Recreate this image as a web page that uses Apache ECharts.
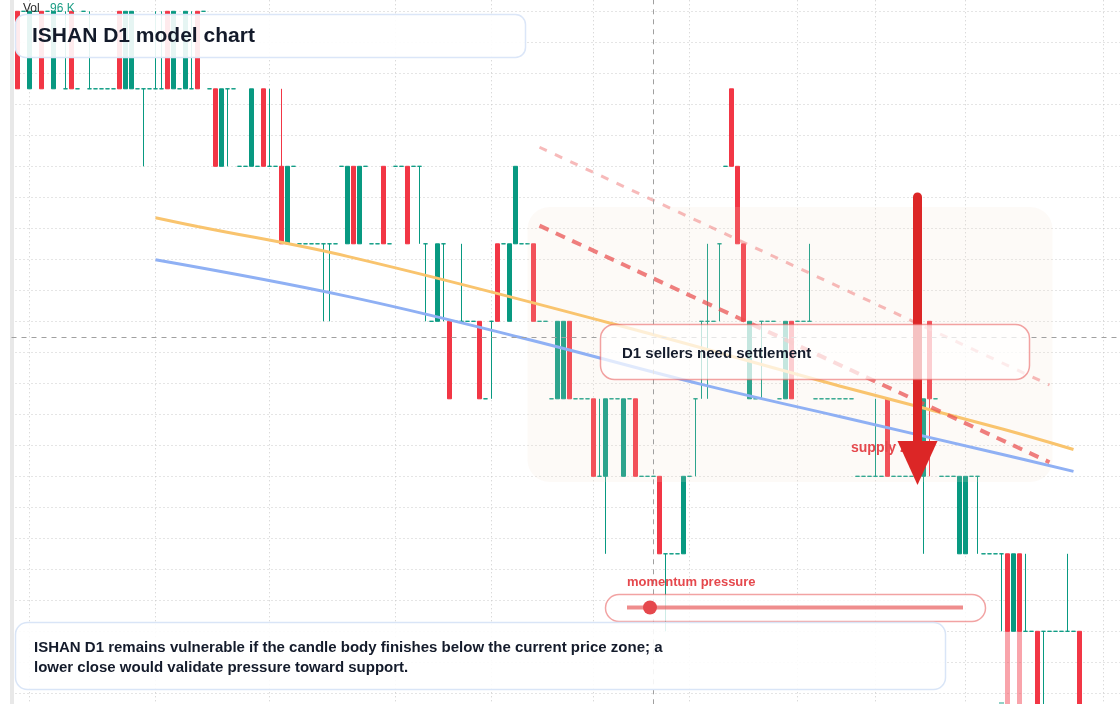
<!DOCTYPE html>
<html>
<head>
<meta charset="utf-8">
<script src="https://cdn.jsdelivr.net/npm/echarts@6/dist/echarts.min.js"></script>
<style>
html,body{margin:0;padding:0;background:#ffffff;}
#chart{width:1120px;height:704px;}
</style>
</head>
<body>
<div id="chart"></div>
<script>
// ---- candle data (daily), price levels ----
const OPEN = [
1.30,1.30,1.25,1.30,1.30,1.30,1.25,1.30,1.25,1.30,
1.25,1.30,1.25,1.25,1.25,1.25,1.25,1.30,1.25,1.25,
1.25,1.25,1.25,1.25,1.25,1.30,1.25,1.25,1.25,1.25,
1.30,1.30,1.25,1.25,1.20,1.25,1.25,1.20,1.20,1.20,
1.20,1.25,1.20,1.20,1.20,1.15,1.20,1.15,1.15,1.15,
1.15,1.15,1.15,1.15,1.20,1.15,1.20,1.15,1.20,1.15,
1.15,1.20,1.15,1.20,1.20,1.20,1.20,1.20,1.15,1.10,
1.10,1.15,1.10,1.10,1.10,1.10,1.10,1.10,1.05,1.10,
1.15,1.15,1.10,1.15,1.15,1.15,1.15,1.10,1.10,1.05,
1.05,1.05,1.10,1.05,1.05,1.05,1.05,1.00,1.00,1.05,
1.05,1.00,1.05,1.05,1.00,1.00,1.00,1.00,0.95,0.95,
0.95,0.95,1.00,1.05,1.10,1.10,1.10,1.15,1.20,1.25,
1.20,1.15,1.05,1.05,1.10,1.10,1.10,1.05,1.05,1.10,
1.10,1.10,1.10,1.05,1.05,1.05,1.05,1.05,1.05,1.05,
1.00,1.00,1.00,1.00,1.00,1.05,1.00,1.00,1.00,1.00,
1.00,1.00,1.10,1.05,1.00,1.00,1.00,0.95,0.95,1.00,
1.00,0.95,0.95,0.95,0.95,0.95,0.90,0.95,0.90,0.90,
0.90,0.90,0.90,0.90,0.90,0.90,0.90,0.90
];
const CLOSE = [
1.25,1.30,1.30,1.30,1.25,1.30,1.30,1.30,1.25,1.25,
1.25,1.30,1.25,1.25,1.25,1.25,1.25,1.25,1.30,1.30,
1.25,1.25,1.25,1.25,1.25,1.25,1.30,1.25,1.30,1.25,
1.25,1.30,1.25,1.20,1.25,1.25,1.25,1.20,1.20,1.25,
1.20,1.20,1.20,1.20,1.15,1.20,1.20,1.15,1.15,1.15,
1.15,1.15,1.15,1.15,1.20,1.20,1.15,1.20,1.20,1.15,
1.15,1.15,1.15,1.20,1.20,1.15,1.20,1.20,1.15,1.10,
1.15,1.15,1.05,1.10,1.10,1.10,1.10,1.05,1.05,1.10,
1.10,1.15,1.15,1.20,1.15,1.15,1.10,1.10,1.10,1.05,
1.10,1.10,1.05,1.05,1.05,1.05,1.00,1.00,1.05,1.05,
1.05,1.05,1.05,1.00,1.00,1.00,1.00,0.95,0.95,0.95,
0.95,1.00,1.00,1.05,1.10,1.10,1.10,1.15,1.20,1.20,
1.15,1.10,1.10,1.05,1.10,1.10,1.10,1.05,1.10,1.05,
1.10,1.10,1.10,1.05,1.05,1.05,1.05,1.05,1.05,1.05,
1.00,1.00,1.00,1.00,1.00,1.00,1.00,1.00,1.00,1.00,
1.00,1.05,1.05,1.05,1.00,1.00,1.00,1.00,1.00,1.00,
1.00,0.95,0.95,0.95,0.95,0.90,0.95,0.90,0.90,0.90,
0.85,0.90,0.90,0.90,0.90,0.90,0.90,0.85
];
const LOW = [
1.25,1.30,1.25,1.30,1.25,1.30,1.25,1.30,1.25,1.25,
1.25,1.30,1.25,1.25,1.25,1.25,1.25,1.25,1.25,1.25,
1.25,1.20,1.25,1.25,1.25,1.25,1.25,1.25,1.25,1.25,
1.25,1.30,1.25,1.20,1.20,1.20,1.25,1.20,1.20,1.20,
1.20,1.20,1.20,1.20,1.15,1.15,1.20,1.15,1.15,1.15,
1.15,1.10,1.10,1.15,1.20,1.15,1.15,1.15,1.20,1.15,
1.15,1.15,1.15,1.20,1.20,1.15,1.20,1.15,1.10,1.10,
1.10,1.10,1.05,1.10,1.10,1.10,1.10,1.05,1.05,1.05,
1.10,1.15,1.10,1.15,1.15,1.15,1.10,1.10,1.10,1.05,
1.05,1.05,1.05,1.05,1.05,1.05,1.00,1.00,0.95,1.05,
1.05,1.00,1.05,1.00,1.00,1.00,1.00,0.95,0.90,0.95,
0.95,0.95,1.00,1.00,1.05,1.05,1.10,1.10,1.20,1.20,
1.15,1.10,1.05,1.05,1.05,1.10,1.10,1.05,1.05,1.05,
1.10,1.10,1.10,1.05,1.05,1.05,1.05,1.05,1.05,1.05,
1.00,1.00,1.00,1.00,1.00,1.00,1.00,1.00,1.00,1.00,
1.00,0.95,1.00,1.05,1.00,1.00,1.00,0.95,0.95,1.00,
0.95,0.95,0.95,0.95,0.90,0.90,0.90,0.90,0.90,0.90,
0.85,0.85,0.90,0.90,0.90,0.90,0.90,0.85
];
const HIGH = [
1.30,1.30,1.30,1.30,1.30,1.30,1.30,1.30,1.30,1.30,
1.25,1.30,1.30,1.25,1.25,1.25,1.25,1.30,1.30,1.30,
1.25,1.25,1.25,1.30,1.30,1.30,1.30,1.25,1.30,1.30,
1.30,1.30,1.25,1.25,1.25,1.25,1.25,1.20,1.20,1.25,
1.20,1.25,1.25,1.20,1.25,1.20,1.20,1.15,1.15,1.15,
1.15,1.15,1.15,1.15,1.20,1.20,1.20,1.20,1.20,1.15,
1.15,1.20,1.15,1.20,1.20,1.20,1.20,1.20,1.15,1.10,
1.15,1.15,1.10,1.10,1.15,1.10,1.10,1.10,1.05,1.10,
1.15,1.15,1.15,1.20,1.15,1.15,1.15,1.10,1.10,1.05,
1.10,1.10,1.10,1.05,1.05,1.05,1.05,1.05,1.05,1.05,
1.05,1.05,1.05,1.05,1.00,1.00,1.00,1.00,0.95,0.95,
0.95,1.00,1.00,1.05,1.10,1.15,1.10,1.15,1.20,1.25,
1.20,1.15,1.10,1.05,1.10,1.10,1.10,1.05,1.10,1.10,
1.10,1.10,1.15,1.05,1.05,1.05,1.05,1.05,1.05,1.05,
1.00,1.00,1.00,1.05,1.00,1.05,1.00,1.00,1.00,1.00,
1.00,1.05,1.10,1.05,1.00,1.00,1.00,1.00,1.00,1.00,
1.00,0.95,0.95,0.95,0.95,0.95,0.95,0.95,0.95,0.90,
0.90,0.90,0.90,0.90,0.90,0.95,0.90,0.90
];
// volume bars that reach into view (thousands)
const VOL_INDEX = [164, 165, 167];
const VOL_K = [30, 127, 127];
// moving-average style curves (candle index, price)
const FAST_IDX = [23, 30, 55, 99, 137, 164, 176];
const FAST_VAL = [1.1668, 1.1612, 1.1419, 1.0986, 1.0583, 1.0307, 1.0173];
const SLOW_IDX = [23, 55, 84, 114, 137, 164, 176];
const SLOW_VAL = [1.1397, 1.1161, 1.0894, 1.0593, 1.0386, 1.0142, 1.0032];
// descending trend lines
const TREND_IDX = [87, 172];
const TREND_MAIN = [1.1617, 1.0091];
const TREND_UPPER = [1.2123, 1.0589];
// arrow, crosshair, zone
const ARROW_IDX = 150;
const ARROW_PRICE = [1.1802, 1.0086];
const CROSS_IDX = 106;
const CROSS_PRICE = 1.0892;
const ZONE_IDX = [85, 172];
const ZONE_PRICE = [1.1737, 0.9963];
const GRID_X_IDX = [2, 23, 42, 63, 79, 96, 112, 130, 143, 158, 181];

const LEAD = 1, TRAIL = 8;
const CATEGORIES = [];
for (let k = 0; k < LEAD + OPEN.length + TRAIL; k++) CATEGORIES.push('D' + (k - LEAD + 1));
const K = i => i + LEAD;

const GREEN = '#089981', RED = '#f23645';
const gridSet = new Set(GRID_X_IDX.map(K));

const candleData = CATEGORIES.map((_, k) => {
  const i = k - LEAD;
  return (i >= 0 && i < OPEN.length) ? [OPEN[i], CLOSE[i], LOW[i], HIGH[i]] : ['-', '-', '-', '-'];
});
const volData = CATEGORIES.map(() => '-');
VOL_INDEX.forEach((i, j) => {
  const bear = CLOSE[i] < OPEN[i];
  volData[K(i)] = { value: VOL_K[j], itemStyle: { color: bear ? 'rgba(242,54,69,0.45)' : 'rgba(8,153,129,0.45)' } };
});
const pairs = (idx, val) => idx.map((i, j) => [K(i), val[j]]);

const chart = echarts.init(document.getElementById('chart'), null, { renderer: 'canvas' });
const gridLine = { color: '#cbcbcb', type: [1, 3], width: 1 };
const option = {
  animation: false,
  backgroundColor: '#ffffff',
  grid: { left: 11.5, right: -7.5, top: -19.7, bottom: -20.3, outerBoundsMode: 'none', containLabel: false },
  xAxis: {
    type: 'category', data: CATEGORIES, boundaryGap: false,
    axisLine: { show: false }, axisTick: { show: false }, axisLabel: { show: false },
    splitLine: { show: true, interval: (idx) => gridSet.has(idx), lineStyle: gridLine }
  },
  yAxis: [
    {
      type: 'value', min: 0.84, max: 1.32, interval: 0.02, position: 'left',
      axisLine: { show: true, lineStyle: { color: '#e8e8e8', width: 4 } },
      axisTick: { show: false }, axisLabel: { show: false },
      splitLine: { show: true, lineStyle: gridLine }
    },
    { type: 'value', min: 0, max: 1000, show: false, splitLine: { show: false } }
  ],
  series: [
    {
      type: 'bar', yAxisIndex: 1, data: volData, barWidth: 5, z: 1, silent: true
    },
    {
      type: 'candlestick', data: candleData, barWidth: 4, z: 2, silent: true,
      itemStyle: {
        color: GREEN, color0: RED, borderColor: GREEN, borderColor0: RED,
        borderColorDoji: GREEN, borderWidth: 1
      }
    },
    {
      type: 'line', data: pairs(FAST_IDX, FAST_VAL), smooth: 0.4, symbol: 'none', z: 5, silent: true,
      lineStyle: { color: '#f9c46e', width: 3 }
    },
    {
      type: 'line', data: pairs(SLOW_IDX, SLOW_VAL), smooth: 0.4, symbol: 'none', z: 5, silent: true,
      lineStyle: { color: '#8fb0f4', width: 3 }
    },
    {
      type: 'line', data: pairs(TREND_IDX, TREND_MAIN), symbol: 'none', z: 6, silent: true,
      lineStyle: { color: 'rgba(233,77,77,0.72)', width: 4, type: [10, 8] }
    },
    {
      type: 'line', data: pairs(TREND_IDX, TREND_UPPER), symbol: 'none', z: 6, silent: true,
      lineStyle: { color: 'rgba(240,130,130,0.55)', width: 3, type: [8, 9] }
    },
    {
      type: 'line', data: [], z: 50, silent: true,
      markLine: {
        silent: true, z: 50, symbol: ['none', 'none'], label: { show: false },
        lineStyle: { color: '#a0a0a0', width: 1, type: [5, 5] },
        data: [ { xAxis: CATEGORIES[K(CROSS_IDX)] }, { yAxis: CROSS_PRICE } ]
      }
    },
    {
      type: 'line', data: [], z: 60, silent: true,
      markLine: {
        silent: true, z: 60, label: { show: false },
        lineStyle: { color: '#dc2626', width: 9, type: 'solid', cap: 'round' },
        data: [[
          { coord: [K(ARROW_IDX), ARROW_PRICE[0]], symbol: 'none' },
          { coord: [K(ARROW_IDX), ARROW_PRICE[1]], symbol: 'triangle', symbolSize: [40, 44] }
        ]]
      }
    }
  ]
};
chart.setOption(option);

const FONT = '"Liberation Sans", Arial, Helvetica, sans-serif';
const p0 = chart.convertToPixel({ gridIndex: 0 }, [K(ZONE_IDX[0]), ZONE_PRICE[0]]);
const p1 = chart.convertToPixel({ gridIndex: 0 }, [K(ZONE_IDX[1]), ZONE_PRICE[1]]);
const half = (chart.convertToPixel({ gridIndex: 0 }, [K(ZONE_IDX[1]) + 1, ZONE_PRICE[1]])[0] - p1[0]) / 2;

chart.setOption({
  graphic: [
    { type: 'rect', z: 3, silent: true,
      shape: { x: p0[0], y: p0[1], width: p1[0] + half - p0[0], height: p1[1] - p0[1], r: 22 },
      style: { fill: 'rgba(245,222,205,0.16)' } },
    { type: 'text', z: 70, silent: true, x: 23, y: 9,
      style: { text: 'Vol', font: '12px ' + FONT, fill: '#2b2b2b', verticalAlign: 'middle' } },
    { type: 'text', z: 70, silent: true, x: 50, y: 9,
      style: { text: '96 K', font: '12px ' + FONT, fill: '#1e9e86', verticalAlign: 'middle' } },
    { type: 'rect', z: 80, silent: true,
      shape: { x: 15.5, y: 14.5, width: 510, height: 43, r: 10 },
      style: { fill: 'rgba(255,255,255,0.9)', stroke: '#dbe6f8', lineWidth: 1.5 } },
    { type: 'text', z: 81, silent: true, x: 32, y: 36.5,
      style: { text: 'ISHAN D1 model chart', font: 'bold 21px ' + FONT, fill: '#131a2a', verticalAlign: 'middle' } },
    { type: 'text', z: 40, silent: true, x: 851, y: 448,
      style: { text: 'supply zone', font: 'bold 14px ' + FONT, fill: '#e5484d', verticalAlign: 'middle' } },
    { type: 'rect', z: 80, silent: true,
      shape: { x: 600.5, y: 324.5, width: 429, height: 55, r: 14 },
      style: { fill: 'rgba(255,255,255,0.72)', stroke: 'rgba(232,88,88,0.55)', lineWidth: 1.5 } },
    { type: 'text', z: 81, silent: true, x: 622, y: 353.5,
      style: { text: 'D1 sellers need settlement', font: 'bold 15px ' + FONT, fill: '#141b2b', verticalAlign: 'middle' } },
    { type: 'text', z: 81, silent: true, x: 627, y: 582,
      style: { text: 'momentum pressure', font: 'bold 13px ' + FONT, fill: '#e5484d', verticalAlign: 'middle' } },
    { type: 'rect', z: 80, silent: true,
      shape: { x: 605.5, y: 594.5, width: 380, height: 27, r: 13.5 },
      style: { fill: 'rgba(255,255,255,0.8)', stroke: 'rgba(232,88,88,0.55)', lineWidth: 1.5 } },
    { type: 'line', z: 81, silent: true,
      shape: { x1: 627, y1: 607.5, x2: 963, y2: 607.5 },
      style: { stroke: 'rgba(230,80,80,0.65)', lineWidth: 4 } },
    { type: 'circle', z: 82, silent: true,
      shape: { cx: 650, cy: 607.5, r: 7 },
      style: { fill: '#e5484d' } },
    { type: 'rect', z: 80, silent: true,
      shape: { x: 15.5, y: 622.5, width: 930, height: 67, r: 12 },
      style: { fill: 'rgba(255,255,255,0.88)', stroke: '#d9e5f7', lineWidth: 1.5 } },
    { type: 'text', z: 81, silent: true, x: 34, y: 657.5,
      style: { text: 'ISHAN D1 remains vulnerable if the candle body finishes below the current price zone; a\nlower close would validate pressure toward support.',
               font: 'bold 15px ' + FONT, fill: '#141b2b', verticalAlign: 'middle', lineHeight: 20 } }
  ]
});
</script>
</body>
</html>
